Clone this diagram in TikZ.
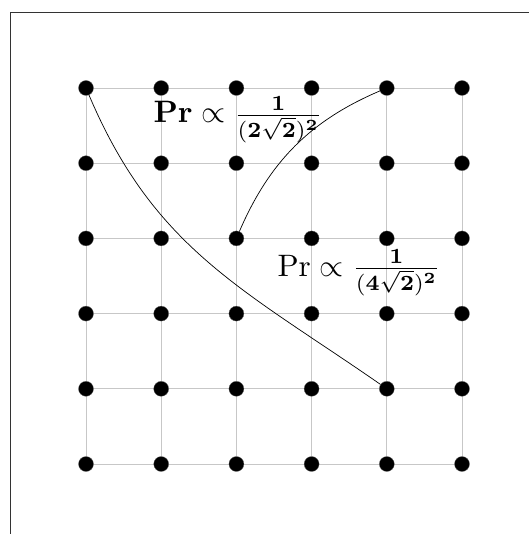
\documentclass[tikz,border=0pt]{standalone}
\usepackage{amsmath}
\begin{document}
\begin{tikzpicture}[x=1pt,y=-1pt,
  dot/.style={circle,fill=black,draw=black!60,line width=0.3pt,minimum size=15pt,inner sep=0pt},
  gridline/.style={black!22,line width=0.8pt},
  link/.style={black,line width=0.7pt},
  lbl/.style={inner sep=0pt,scale=3.1,transform shape}]
\useasboundingbox (0,0) rectangle (528,534);
\draw[black!80,line width=0.8pt] (10,540) -- (10,12) -- (540,12);
\foreach \i in {0,...,5} \foreach \j in {0,...,5}
  \coordinate (c-\i-\j) at ({86+75.2*\i},{88+75.2*\j});
\foreach \k in {0,...,5} {
  \draw[gridline] (c-0-\k) -- (c-5-\k);
  \draw[gridline] (c-\k-0) -- (c-\k-5);
}
\foreach \i in {0,...,5} \foreach \j in {0,...,5}
  \node[dot] (n-\i-\j) at (c-\i-\j) {};
\draw[link] (n-0-0) .. controls (154.4,249.2) and (242.8,288.9) .. (n-4-4);
\draw[link] (n-2-2) .. controls (269.4,161.7) and (310.6,120.4) .. (n-4-0);
\node[lbl,anchor=base west] (l1) at (153,123)
  {$\mathbf{Pr}\propto\frac{\mathbf{1}}{(\mathbf{2}\sqrt{\mathbf{2}})^{\mathbf{2}}}$};
\node[lbl,anchor=base west] (l2) at (277,276)
  {$\mathrm{Pr}\propto\frac{\mathbf{1}}{(\mathbf{4}\sqrt{\mathbf{2}})^{\mathbf{2}}}$};
\end{tikzpicture}
\end{document}
